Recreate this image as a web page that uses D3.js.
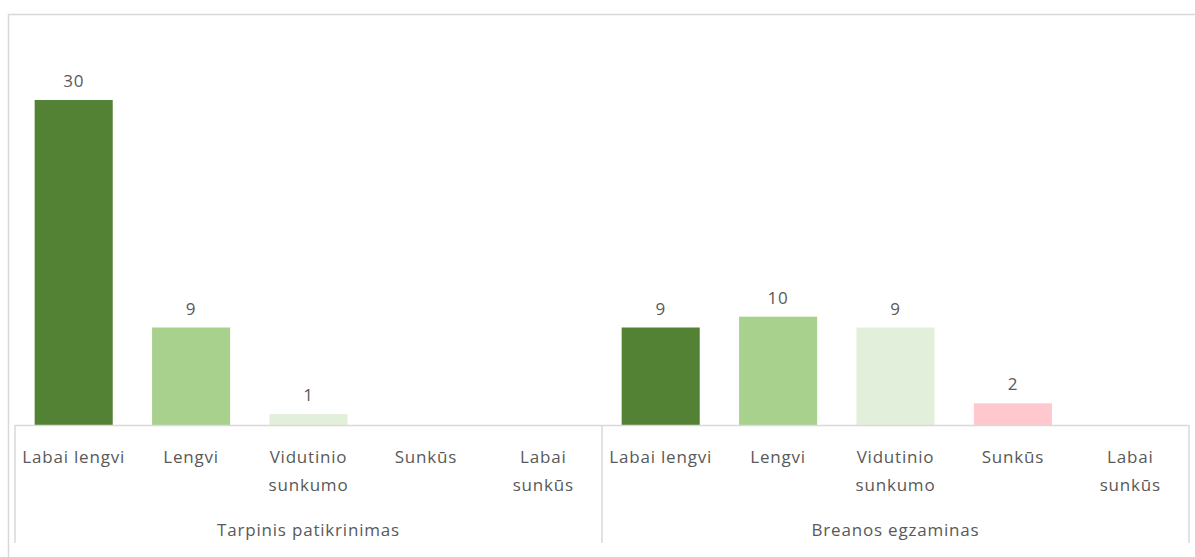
<!DOCTYPE html>
<html>
<head>
<meta charset="utf-8">
<script src="https://cdn.jsdelivr.net/npm/d3@7"></script>
<style>
  body { margin: 0; background: #fff; }
  text { font-family: "Open Sans", sans-serif; fill: #595959; letter-spacing: 0.8px; }
</style>
</head>
<body>
<svg id="chart" width="1195" height="557"></svg>
<script>
// data
const groups = ["Tarpinis patikrinimas", "Breanos egzaminas"];
const categories = ["Labai lengvi", "Lengvi", "Vidutinio sunkumo", "Sunkūs", "Labai sunkūs"];
const categoryLines = [["Labai lengvi"], ["Lengvi"], ["Vidutinio", "sunkumo"], ["Sunkūs"], ["Labai", "sunkūs"]];
const tarpinis = [30, 9, 1, 0, 0];
const breanos = [9, 10, 9, 2, 0];
const colors = ["#548235", "#A9D18E", "#E2EFDA", "#FFC7CE", "#FFC7CE"];

const values = [tarpinis, breanos];

const svg = d3.select("#chart");

// chart border
svg.append("rect")
  .attr("x", 8.5).attr("y", 14.5)
  .attr("width", 1195).attr("height", 560)
  .attr("fill", "none")
  .attr("stroke", "#d9d9d9")
  .attr("stroke-width", 1.5);

const left = 15, right = 1189, baseY = 425, topY = 100;

const x0 = d3.scaleBand().domain(groups).range([left, right]);
const x1 = d3.scaleBand().domain(categories).range([0, x0.bandwidth()]).paddingInner(0.335).paddingOuter(0.1675);
const y = d3.scaleLinear().domain([0, 30]).range([baseY, topY]);

const g = svg.selectAll("g.group")
  .data(groups)
  .enter()
  .append("g")
  .attr("class", "group")
  .attr("transform", d => `translate(${x0(d)},0)`);

g.each(function (grp, gi) {
  const sel = d3.select(this);
  const rows = categories.map((c, i) => ({ c, i, v: values[gi][i] }));

  sel.selectAll("rect.bar")
    .data(rows.filter(d => d.v > 0))
    .enter()
    .append("rect")
    .attr("class", "bar")
    .attr("x", d => x1(d.c))
    .attr("y", d => y(d.v))
    .attr("width", x1.bandwidth())
    .attr("height", d => y(0) - y(d.v))
    .attr("fill", d => colors[d.i]);

  sel.selectAll("text.val")
    .data(rows.filter(d => d.v > 0))
    .enter()
    .append("text")
    .attr("class", "val")
    .attr("x", d => x1(d.c) + x1.bandwidth() / 2)
    .attr("y", d => y(d.v) - 13)
    .attr("text-anchor", "middle")
    .style("font-size", "17px")
    .text(d => d.v);

  const lbl = sel.selectAll("text.cat")
    .data(rows)
    .enter()
    .append("text")
    .attr("class", "cat")
    .attr("text-anchor", "middle")
    .style("font-size", "17px");
  lbl.selectAll("tspan")
    .data(d => categoryLines[d.i].map(t => ({ t, cx: x1(d.c) + x1.bandwidth() / 2 })))
    .enter()
    .append("tspan")
    .attr("x", d => d.cx)
    .attr("y", (d, j) => 463 + j * 28)
    .text(d => d.t);

  sel.append("text")
    .attr("x", x0.bandwidth() / 2)
    .attr("y", 536)
    .attr("text-anchor", "middle")
    .style("font-size", "17px")
    .text(grp);
});

// axis line and group separators
svg.append("line")
  .attr("x1", left).attr("x2", right)
  .attr("y1", baseY + 0.5).attr("y2", baseY + 0.5)
  .attr("stroke", "#d9d9d9").attr("stroke-width", 1.5);

svg.selectAll("line.sep")
  .data([left, x0(groups[1]), right])
  .enter()
  .append("line")
  .attr("class", "sep")
  .attr("x1", d => d).attr("x2", d => d)
  .attr("y1", baseY).attr("y2", 543)
  .attr("stroke", "#d9d9d9").attr("stroke-width", 1.5);
</script>
</body>
</html>
